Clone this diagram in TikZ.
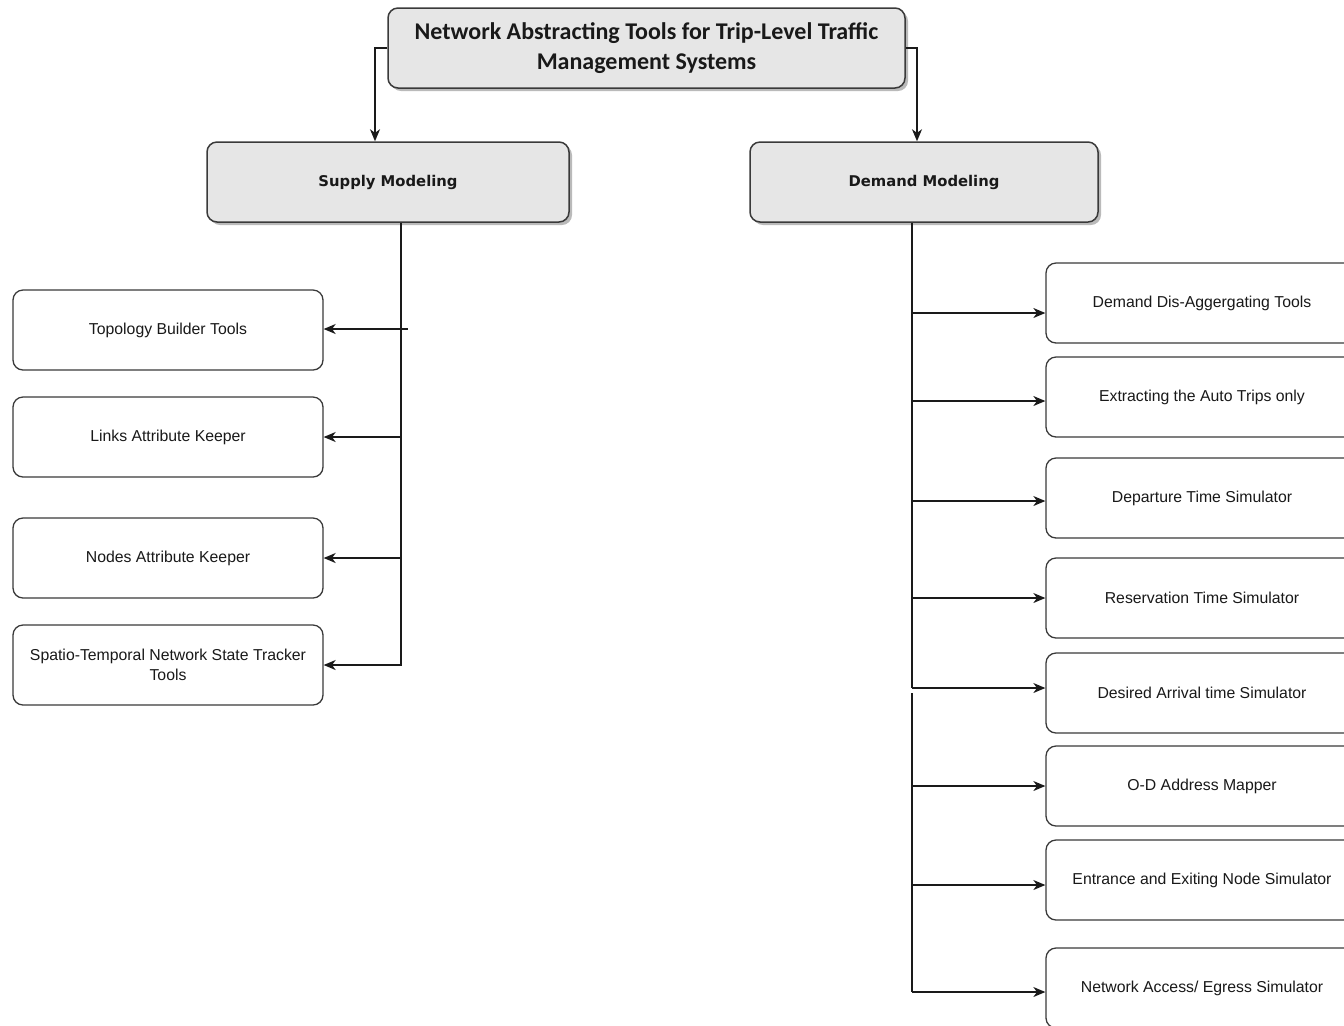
\documentclass[tikz,border=0pt]{standalone}
\usepackage{fontspec}
\setmainfont{Liberation Sans}
\newfontfamily\rootfont{Carlito}
\newfontfamily\headfont{DejaVu Sans}
\usetikzlibrary{arrows.meta,calc,shadows}
\definecolor{headfill}{HTML}{E6E6E6}
\definecolor{boxstroke}{HTML}{3A3A3A}
\definecolor{linkstroke}{HTML}{1A1A1A}
\definecolor{shadowgray}{HTML}{8C8C8C}
\tikzset{
  topbox/.style={
    rectangle,
    rounded corners=5pt,
    draw=boxstroke,
    fill=headfill,
    line width=0.75pt,
    drop shadow={shadow xshift=1.5pt,shadow yshift=-1.5pt,fill=shadowgray,opacity=0.6},
    minimum width=258.5pt,
    minimum height=40pt,
    align=center,
    inner sep=2pt,
    text=black!90,
    font=\rootfont\bfseries\fontsize{12}{15}\selectfont
  },
  modelbox/.style={
    topbox,
    minimum width=181pt,
    font=\headfont\bfseries\fontsize{7.4}{9}\selectfont
  },
  toolbox/.style={
    rectangle,
    rounded corners=5pt,
    draw=boxstroke,
    fill=white,
    line width=0.65pt,
    minimum width=155pt,
    minimum height=40pt,
    align=center,
    inner sep=2pt,
    text=black!90,
    font=\fontsize{7.9}{10}\selectfont
  },
  trunk/.style={draw=linkstroke,line width=0.65pt},
  link/.style={
    trunk,
    -{Stealth[length=6pt,width=5pt,inset=1.8pt]}
  }
}

\begin{document}
\begin{tikzpicture}[x=0.5pt,y=-0.5pt]
  \useasboundingbox (0,0) rectangle (1344,1025);
  \clip (0,0) rectangle (1344,1025);

  \node[topbox] (root) at (646.5,48)
    {Network Abstracting Tools for Trip-Level Traffic\\Management Systems};
  \node[modelbox] (supply) at (388,182) {Supply Modeling};
  \node[modelbox,minimum width=174pt] (demand) at (924,182) {Demand Modeling};

  % supply side
  \node[toolbox] (topo) at (168,330) {Topology Builder Tools};
  \node[toolbox] (links) at (168,437) {Links Attribute Keeper};
  \node[toolbox] (nodes) at (168,558) {Nodes Attribute Keeper};
  \node[toolbox] (tracker) at (168,665) {Spatio-Temporal Network State Tracker\\Tools};

  % demand side
  \node[toolbox,minimum width=156pt] (disagg) at (1202,303) {Demand Dis-Aggergating Tools};
  \node[toolbox,minimum width=156pt] (auto) at (1202,397) {Extracting the Auto Trips only};
  \node[toolbox,minimum width=156pt] (depart) at (1202,498) {Departure Time Simulator};
  \node[toolbox,minimum width=156pt] (reserve) at (1202,598) {Reservation Time Simulator};
  \node[toolbox,minimum width=156pt] (arrive) at (1202,693) {Desired Arrival time Simulator};
  \node[toolbox,minimum width=156pt] (odmap) at (1202,786) {O-D Address Mapper};
  \node[toolbox,minimum width=156pt] (entrexit) at (1202,880) {Entrance and Exiting Node Simulator};
  \node[toolbox,minimum width=156pt] (access) at (1202,988) {Network Access/ Egress Simulator};

  % top split
  \draw[link] (root.west) -| ($(supply.north)+(-13,0)$);
  \draw[link] (root.east) -| ($(demand.north)+(-7,0)$);

  % supply branches
  \coordinate (strunk) at ($(supply.south)+(13,0)$);
  \coordinate (stopo) at ($(topo.east)+(84,-1)$);
  \draw[link] (strunk) |- (tracker.east);
  \draw[link] (stopo) -- (stopo -| topo.east);
  \draw[link] (strunk |- links.east) -- (links.east);
  \draw[link] (strunk |- nodes.east) -- (nodes.east);

  % demand branches
  \coordinate (dtrunk) at ($(demand.south)+(-12,0)$);
  \coordinate (dj1) at ($(dtrunk |- disagg.west)+(0,10)$);
  \coordinate (dj2) at ($(dtrunk |- auto.west)+(0,4)$);
  \coordinate (dj3) at ($(dtrunk |- depart.west)+(0,3)$);
  \coordinate (dj4) at (dtrunk |- reserve.west);
  \coordinate (dj5) at ($(dtrunk |- arrive.west)+(0,-5)$);
  \coordinate (dj6) at (dtrunk |- odmap.west);
  \coordinate (dj7) at ($(dtrunk |- entrexit.west)+(0,5)$);
  \coordinate (dj8) at ($(dtrunk |- access.west)+(0,4)$);
  \draw[trunk] (dtrunk) -- (dj5);
  \draw[trunk] ($(dj5)+(0,5)$) -- (dj8);
  \draw[link] (dj1) -- (dj1 -| disagg.west);
  \draw[link] (dj2) -- (dj2 -| auto.west);
  \draw[link] (dj3) -- (dj3 -| depart.west);
  \draw[link] (dj4) -- (dj4 -| reserve.west);
  \draw[link] (dj5) -- (dj5 -| arrive.west);
  \draw[link] (dj6) -- (dj6 -| odmap.west);
  \draw[link] (dj7) -- (dj7 -| entrexit.west);
  \draw[link] (dj8) -- (dj8 -| access.west);
\end{tikzpicture}
\end{document}
